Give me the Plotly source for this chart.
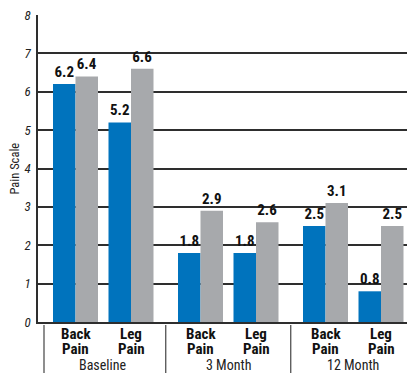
import plotly.graph_objects as go

# Pain scores by follow-up period
groups = ["Baseline", "3 Month", "12 Month"]
categories = ["Back Pain", "Leg Pain"]
blue_values = [6.2, 5.2, 1.8, 1.8, 2.5, 0.8]
gray_values = [6.4, 6.6, 2.9, 2.6, 3.1, 2.5]
y_ticks = [0, 1, 2, 3, 4, 5, 6, 7, 8]

BLUE = "#0073bd"
GRAY = "#a7a9ac"
LINE = "#2e2e2e"
FONT = "Roboto Condensed, Liberation Sans Narrow, sans-serif"

# layout of the pair positions along a numeric x axis (units = px of plot width)
first_center = 37.5
group_pitch = 125
cat_pitch = 55.5
bar_w = 22.5

centers = []
for g in range(len(groups)):
    for c in range(len(categories)):
        centers.append(first_center + g * group_pitch + c * cat_pitch)

text_font = dict(family=FONT, size=15, color="#111", weight="bold")

fig = go.Figure()
fig.add_trace(go.Bar(
    x=centers, y=blue_values, width=bar_w, offset=-bar_w,
    marker=dict(color=BLUE, line=dict(width=0)),
    text=[f"{v:.1f}" for v in blue_values], textposition="outside",
    textfont=text_font, constraintext="none", cliponaxis=False,
    showlegend=False, hoverinfo="skip",
))
fig.add_trace(go.Bar(
    x=centers, y=gray_values, width=bar_w, offset=0,
    marker=dict(color=GRAY, line=dict(width=0)),
    text=[f"{v:.1f}" for v in gray_values], textposition="outside",
    textfont=text_font, constraintext="none", cliponaxis=False,
    showlegend=False, hoverinfo="skip",
))

annotations = []
# category labels under each pair, one annotation per word for tight line spacing
line_ys = [-0.038, -0.089]
for i, x in enumerate(centers):
    words = categories[i % len(categories)].split(" ")
    for word, ly in zip(words, line_ys):
        annotations.append(dict(
            x=x, y=ly, xref="x", yref="paper", text=word,
            showarrow=False, xanchor="center", yanchor="middle",
            font=dict(family=FONT, size=15, color="#111", weight="bold"),
        ))
# group labels
for g, name in enumerate(groups):
    mid = (centers[2 * g] + centers[2 * g + 1]) / 2
    annotations.append(dict(
        x=mid, y=-0.14, xref="x", yref="paper", text=name,
        showarrow=False, xanchor="center", yanchor="middle",
        font=dict(family=FONT, size=14, color="#222"),
    ))
# y axis title
annotations.append(dict(
    x=0, y=0.5, xref="paper", yref="paper", text="Pain Scale", textangle=-90,
    showarrow=False, xanchor="center", yanchor="middle", xshift=-24,
    font=dict(family=FONT, size=12.5, color="#222"),
))

# divider lines below the axis
shapes = []
dividers = [first_center - 31.5]
for g in range(1, len(groups)):
    dividers.append((centers[2 * g - 1] + centers[2 * g]) / 2)
for x in dividers:
    shapes.append(dict(type="line", xref="x", yref="paper", x0=x, x1=x,
                       y0=-0.01, y1=-0.166, line=dict(color="#444", width=1.2)))

fig.update_layout(
    width=407, height=373,
    margin=dict(l=38, r=0, t=15, b=51),
    paper_bgcolor="white", plot_bgcolor="white",
    barmode="overlay",
    annotations=annotations, shapes=shapes,
    xaxis=dict(range=[0, 369], showticklabels=False, showgrid=False, zeroline=False,
               showline=True, linecolor=LINE, linewidth=1.5, ticks=""),
    yaxis=dict(range=[0, 8], tickvals=y_ticks, showgrid=True, gridcolor=LINE, gridwidth=1.5,
               zeroline=False, showline=True, linecolor=LINE, linewidth=1.5, ticks="",
               tickfont=dict(family=FONT, size=13, color="#222", style="italic"),
               ticklabelstandoff=3),
)

fig.write_html("out.html")
